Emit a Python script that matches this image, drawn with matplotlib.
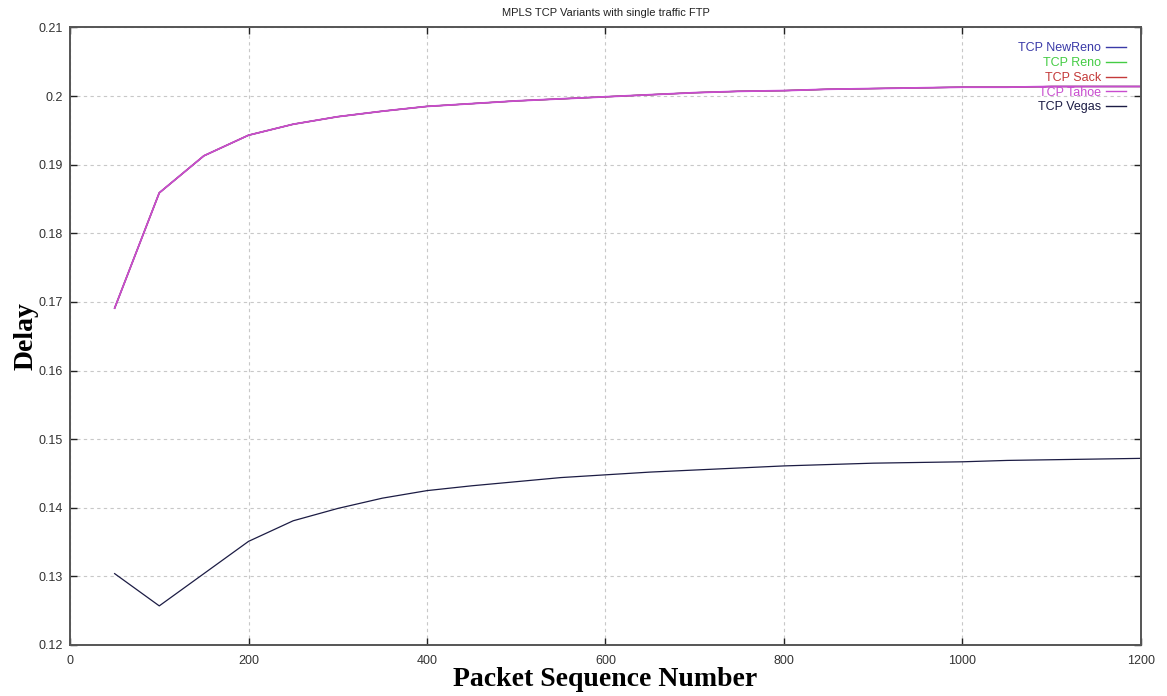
import numpy as np
import matplotlib.pyplot as plt

plt.rcdefaults()

FIGSIZE = (11.67, 6.96)
DPI = 100

seq = [50, 100, 150, 200, 250, 300, 350, 400, 450, 500, 550, 600,
       650, 700, 750, 800, 850, 900, 950, 1000, 1050, 1100, 1150, 1200]

# NewReno, Reno, Sack and Tahoe lie on the same curve (Tahoe drawn last)
delay_tahoe = [0.1691, 0.1859, 0.1913, 0.1943, 0.1959, 0.1970, 0.1978, 0.1985,
               0.1989, 0.1993, 0.1996, 0.1999, 0.2002, 0.2005, 0.2007, 0.2008,
               0.2010, 0.2011, 0.2012, 0.2013, 0.2013, 0.2014, 0.2014, 0.2014]
delay_newreno = delay_tahoe
delay_reno = delay_tahoe
delay_sack = delay_tahoe

delay_vegas = [0.1304, 0.1257, 0.1304, 0.1351, 0.1381, 0.1399, 0.1414, 0.1425,
               0.1432, 0.1438, 0.1444, 0.1448, 0.1452, 0.1455, 0.1458, 0.1461,
               0.1463, 0.1465, 0.1466, 0.1467, 0.1469, 0.1470, 0.1471, 0.1472]

series = [
    ("TCP NewReno", delay_newreno, "#3a3aa8"),
    ("TCP Reno", delay_reno, "#44cc44"),
    ("TCP Sack", delay_sack, "#c43a3a"),
    ("TCP Tahoe", delay_tahoe, "#c84ccf"),
    ("TCP Vegas", delay_vegas, "#1c1c44"),
]

plt.rcParams.update({
    'font.family': 'Liberation Sans',
    'font.size': 9,
})

fig = plt.figure(figsize=FIGSIZE, dpi=DPI)
ax = fig.add_axes([0.06, 0.0733, 0.9177, 0.8872])

for name, vals, col in series:
    lw = 1.3 if name == "TCP Tahoe" else 0.9
    ax.plot(seq, vals, color=col, linewidth=lw, label=name)

ax.set_xlim(0, 1200)
ax.set_ylim(0.12, 0.21)
ax.set_xticks(np.arange(0, 1201, 200))
yt = np.round(np.arange(0.12, 0.2101, 0.01), 2)
ax.set_yticks(yt)
ax.set_yticklabels([f"{v:g}" for v in yt])

ax.tick_params(direction='in', length=5, width=1, colors='#222222',
               labelcolor='#333333', top=True, right=True, pad=7)
ax.tick_params(axis='y', pad=5)
for s in ax.spines.values():
    s.set_color('#555555')
    s.set_linewidth(1.4)

ax.grid(True, linestyle=(0, (3, 3)), color='#c8c8c8', linewidth=0.8)

ax.set_title("MPLS TCP Variants with single traffic FTP", fontsize=8,
             color='#222222', pad=8)
ax.set_xlabel("Packet Sequence Number", family='Liberation Serif',
              fontsize=20, fontweight='bold', labelpad=0)
ax.set_ylabel("Delay", family='Liberation Serif', fontsize=20,
              fontweight='bold', labelpad=0)

leg = ax.legend(loc='upper right', frameon=False, markerfirst=False,
                handlelength=1.6, handletextpad=0.4, labelspacing=0.22,
                fontsize=9, borderaxespad=0.8,
                labelcolor=[c for _, _, c in series])
for h in leg.legend_handles:
    h.set_linewidth(1.0)

plt.savefig("out.png", dpi=DPI)
plt.close()
